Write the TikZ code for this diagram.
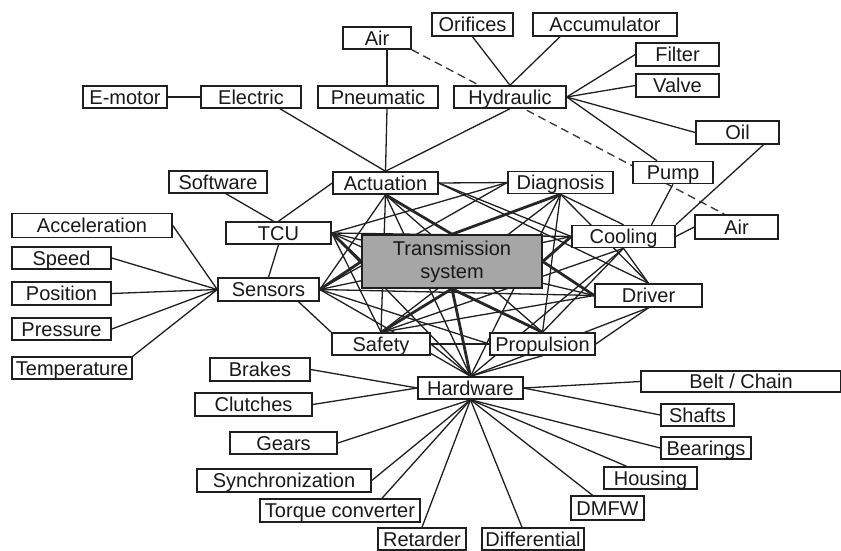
\documentclass[tikz,border=0pt]{standalone}
\usepackage{fontspec}
\setmainfont{Liberation Sans}
\usetikzlibrary{backgrounds}
\begin{document}
\begin{tikzpicture}[x=1pt,y=-1pt,
  base/.style={draw=black!88, line width=1.5pt, fill=white, inner sep=0pt,
    minimum height=22pt, font=\fontsize{20}{23}\selectfont, text=black!90},
  box/.style={base, text height=14.5pt, text depth=0pt},
  bw/.style={minimum width=#1pt},
  bh/.style={minimum height=#1pt},
  ln/.style={line width=1.3pt, draw=black!88},
  tk/.style={line width=2.8pt, draw=black!85},
  dsh/.style={line width=1.3pt, draw=black!80, dash pattern=on 8pt off 5pt}]
\useasboundingbox (0,0) rectangle (841,550);

% ---- nodes ----
\node[box,bw=68] (airT) at (377,38) {Air};
\node[box,bw=84] (emotor) at (125,97) {E-motor};
\node[box,bw=100] (electric) at (251,97) {Electric};
\node[box,bw=120] (pneu) at (378,97) {Pneumatic};
\node[box,bw=112] (hyd) at (510,97) {Hydraulic};
\node[box,bw=81,bh=23] (orif) at (472.5,24.5) {Orifices};
\node[box,bw=144,bh=23] (accum) at (605,24.5) {Accumulator};
\node[box,bw=83,bh=23] (filter) at (677.5,54.5) {Filter};
\node[box,bw=83,bh=23] (valve) at (677.5,85.5) {Valve};
\node[box,bw=83,bh=23] (oil) at (737.5,132.5) {Oil};
\node[box,bw=80] (pump) at (673,172.5) {Pump};
\node[box,bw=98] (software) at (218,182) {Software};
\node[box,bw=105] (act) at (385.5,183) {Actuation};
\node[box,bw=105] (diag) at (560.5,182.5) {Diagnosis};
\node[box,bw=105] (tcu) at (278.5,233) {TCU};
\node[base,bw=180,bh=53,fill=black!35,align=center] (trans) at (452,261.5) {Transmission\\system};
\node[box,bw=103] (cool) at (623.5,236.5) {Cooling};
\node[box,bw=83,bh=24] (airR) at (736.5,227) {Air};
\node[box,bw=160,bh=24] (accel) at (92,225.5) {Acceleration};
\node[box,bw=99] (speed) at (61.5,258) {Speed};
\node[box,bw=99,bh=23] (position) at (61.5,293.5) {Position};
\node[box,bw=99] (pressure) at (61.5,329) {Pressure};
\node[box,bw=120] (temp) at (72,368) {Temperature};
\node[box,bw=101,bh=23] (sens) at (268.5,289.5) {Sensors};
\node[box,bw=107,bh=23] (driver) at (648.5,295.5) {Driver};
\node[box,bw=98] (safety) at (381,344) {Safety};
\node[box,bw=105] (prop) at (542.5,344) {Propulsion};
\node[box,bw=105] (hw) at (470.5,388) {Hardware};
\node[box,bw=100,bh=23] (brakes) at (260,369.5) {Brakes};
\node[box,bw=117,bh=23] (clutches) at (253.5,404.5) {Clutches};
\node[box,bw=107] (gears) at (283.5,443) {Gears};
\node[box,bw=174,bh=23] (sync) at (284,480.5) {Synchronization};
\node[box,bw=160,bh=23] (torque) at (340,510.5) {Torque converter};
\node[box,bw=88] (retarder) at (422,539) {Retarder};
\node[box,bw=102] (diff) at (533,539) {Differential};
\node[box,bw=73,bh=24] (dmfw) at (607.5,508) {DMFW};
\node[box,bw=93] (housing) at (650.5,478) {Housing};
\node[box,bw=90] (bearings) at (706,448) {Bearings};
\node[box,bw=73] (shafts) at (697.5,415) {Shafts};
\node[box,bw=200,bh=21] (belt) at (741,381.5) {Belt / Chain};

% ---- connectors ----
\begin{scope}[on background layer]
\draw[dsh] (airT.south east) -- ([xshift=-12pt]airR.north);
\draw[ln] ([xshift=10pt]airT.south) -- ([xshift=9pt]pneu.north);
\draw[ln] ([xshift=9pt]pneu.south) -- (act.north);
\draw[ln] (emotor.east) -- (electric.west);
\draw[ln] ([xshift=29pt]electric.south) -- (act.north);
\draw[ln] (hyd.south) -- (act.north);
\draw[ln] (orif.south) -- (hyd.north);
\draw[ln] ([xshift=-45pt]accum.south) -- (hyd.north);
\draw[ln] (filter.west) -- (hyd.east);
\draw[ln] (valve.west) -- (hyd.east);
\draw[ln] (oil.west) -- (hyd.east);
\draw[ln] ([xshift=-16pt]pump.north) -- (hyd.east);
\draw[ln] ([xshift=26pt]oil.south) -- (cool.north east);
\draw[ln] (pump.south) -- ([xshift=28pt]cool.north);
\draw[ln] (cool.east) -- (airR.west);
\draw[ln] ([xshift=8pt]software.south) -- ([xshift=-5pt]tcu.north);
\foreach \n in {accel,speed,position,pressure} \draw[ln] (\n.east) -- (sens.west);
\draw[ln] (temp.north east) -- (sens.west);
% hardware fan
\draw[ln] (brakes.east) -- (hw.west);
\draw[ln] (clutches.east) -- (hw.west);
\draw[ln] (gears.east) -- (hw.south);
\draw[ln] (sync.east) -- (hw.south);
\draw[ln] ([xshift=42pt]torque.north) -- (hw.south);
\draw[ln] (retarder.north) -- (hw.south);
\draw[ln] ([xshift=-11pt]diff.north) -- (hw.south);
\draw[ln] ([xshift=-15pt]dmfw.north) -- (hw.south);
\draw[ln] ([xshift=-24pt]housing.north) -- (hw.south);
\draw[ln] (bearings.west) -- (hw.south);
\draw[ln] (shafts.west) -- (hw.east);
\draw[ln] (belt.west) -- (hw.east);
% mesh
\draw[ln] (act.east) -- (diag.west);
\draw[ln] (act.west) -- (tcu.north);
\draw[ln] (act.south) -- (sens.east);
\draw[ln] (act.east) -- (cool.west);
\draw[ln] (act.east) -- (driver.north);
\draw[ln] (act.south) -- (safety.north);
\draw[ln] (act.south) -- (prop.north);
\draw[ln] (act.south) -- (hw.north);
\draw[ln] (diag.west) -- (tcu.east);
\draw[ln] (diag.west) -- (sens.east);
\draw[ln] (diag.south) -- (cool.north);
\draw[ln] (diag.south) -- (driver.north);
\draw[ln] (diag.south) -- (safety.north);
\draw[ln] (diag.south) -- (prop.north);
\draw[ln] (diag.south) -- (hw.north);
\draw[ln] (tcu.south) -- (sens.north);
\draw[ln] (tcu.east) -- (cool.west);
\draw[ln] (tcu.east) -- (driver.west);
\draw[ln] (tcu.east) -- (safety.north);
\draw[ln] (tcu.east) -- (prop.north);
\draw[ln] (tcu.east) -- (hw.north);
\draw[ln] (sens.east) -- (cool.west);
\draw[ln] (sens.east) -- (driver.west);
\draw[ln] ([xshift=30pt]sens.south) -- (safety.north west);
\draw[ln] (sens.east) -- (prop.west);
\draw[ln] (sens.east) -- (hw.north);
\draw[ln] (cool.south) -- (driver.north);
\draw[ln] (cool.south) -- (safety.north);
\draw[ln] (cool.south) -- (prop.north);
\draw[ln] (cool.south) -- (hw.north);
\draw[ln] (driver.west) -- (safety.north);
\draw[ln] (driver.south) -- (prop.east);
\draw[ln] (driver.south) -- (hw.north);
\draw[ln] (safety.east) -- (prop.west);
\draw[ln] (safety.east) -- (hw.north);
\draw[ln] (prop.south) -- (hw.north);
% thick links to the transmission system
\draw[tk] (act.south) -- (trans.north);
\draw[tk] (diag.south) -- (trans.north);
\draw[tk] (tcu.east) -- (trans.west);
\draw[tk] (sens.east) -- (trans.west);
\draw[tk] (cool.west) -- (trans.east);
\draw[tk] (driver.west) -- (trans.east);
\draw[tk] (safety.north) -- (trans.south);
\draw[tk] (prop.north) -- (trans.south);
\draw[tk] (hw.north) -- (trans.south);
\end{scope}
\end{tikzpicture}
\end{document}
